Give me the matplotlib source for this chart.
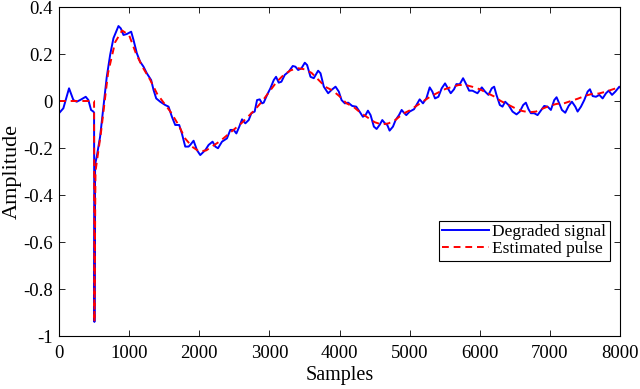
import matplotlib
matplotlib.use('Agg')
import matplotlib.pyplot as plt

plt.rcParams['font.family'] = ['Liberation Serif', 'DejaVu Serif']

# degraded signal (sample, amplitude)
sig_x = [0, 62, 143, 205, 252, 300, 381, 419, 457, 490, 500, 505, 510, 515,
         538, 586, 633, 681, 729, 776, 848, 881, 919, 967, 1029, 1062, 1110,
         1157, 1205, 1252, 1314, 1348, 1386, 1443, 1514, 1562, 1610, 1657,
         1714, 1752, 1800, 1848, 1871, 1919, 1967, 2014, 2086, 2133, 2190,
         2229, 2267, 2324, 2395, 2443, 2490, 2529, 2571, 2610, 2657, 2705,
         2743, 2790, 2824, 2862, 2895, 2919, 2967, 3014, 3062, 3095, 3133,
         3171, 3219, 3276, 3333, 3371, 3410, 3457, 3505, 3538, 3586, 3633,
         3695, 3729, 3776, 3838, 3886, 3943, 3990, 4029, 4076, 4124, 4181,
         4238, 4286, 4333, 4371, 4405, 4443, 4490, 4529, 4571, 4610, 4648,
         4681, 4714, 4762, 4800, 4848, 4886, 4919, 4952, 5000, 5062, 5110,
         5143, 5190, 5238, 5286, 5324, 5362, 5410, 5457, 5505, 5552, 5586,
         5633, 5667, 5714, 5762, 5800, 5848, 5895, 5967, 6029, 6076, 6124,
         6171, 6205, 6238, 6286, 6324, 6362, 6410, 6467, 6524, 6571, 6619,
         6657, 6695, 6729, 6776, 6824, 6871, 6919, 6967, 7014, 7062, 7095,
         7133, 7171, 7219, 7267, 7314, 7362, 7395, 7443, 7490, 7538, 7571,
         7610, 7657, 7705, 7752, 7800, 7838, 7886, 7933, 7990, 8000]
sig_y = [-0.052, -0.031, 0.054, 0.004, -0.003, 0.004, 0.018, 0.004, -0.038,
         -0.045, -0.05, -0.94, -0.58, -0.27,
         -0.237, -0.152, -0.024, 0.103, 0.196, 0.267, 0.319, 0.309, 0.281,
         0.285, 0.295, 0.260, 0.203, 0.167, 0.146, 0.118, 0.089, 0.047,
         0.011, -0.003, -0.017, -0.024, -0.067, -0.102, -0.102, -0.138,
         -0.194, -0.194, -0.187, -0.169, -0.209, -0.230, -0.209, -0.187,
         -0.173, -0.194, -0.201, -0.173, -0.159, -0.123, -0.123, -0.138,
         -0.109, -0.078, -0.095, -0.081, -0.052, -0.045, 0.004, 0.007,
         -0.010, -0.007, 0.026, 0.054, 0.089, 0.103, 0.078, 0.082, 0.111,
         0.125, 0.149, 0.146, 0.132, 0.139, 0.163, 0.153, 0.103, 0.097,
         0.129, 0.118, 0.061, 0.033, 0.047, 0.061, 0.040, 0.004, -0.010,
         -0.007, -0.021, -0.024, -0.045, -0.067, -0.060, -0.041, -0.060,
         -0.109, -0.119, -0.102, -0.081, -0.095, -0.102, -0.126, -0.109,
         -0.081, -0.060, -0.038, -0.050, -0.060, -0.045, -0.035, -0.010,
         0.007, -0.010, 0.011, 0.058, 0.040, 0.011, 0.018, 0.054, 0.075,
         0.050, 0.033, 0.050, 0.072, 0.071, 0.097, 0.075, 0.044, 0.044,
         0.033, 0.058, 0.040, 0.026, 0.054, 0.061, 0.026, -0.017, -0.024,
         -0.003, -0.017, -0.045, -0.057, -0.045, -0.017, -0.007, -0.035,
         -0.052, -0.052, -0.060, -0.041, -0.021, -0.024, -0.038, 0.004,
         0.016, -0.010, -0.038, -0.050, -0.021, -0.003, -0.024, -0.045,
         -0.024, 0.004, 0.040, 0.050, 0.021, 0.018, 0.026, 0.011, 0.033,
         0.044, 0.026, 0.040, 0.061, 0.058]

# estimated pulse (smooth)
est_x = [0, 500, 505, 520, 600, 700, 800, 900, 1000, 1100, 1200, 1300, 1400,
         1500, 1600, 1700, 1800, 1900, 2000, 2100, 2200, 2300, 2400, 2500,
         2600, 2700, 2800, 2900, 3000, 3100, 3200, 3300, 3400, 3500, 3600,
         3700, 3800, 3900, 4000, 4100, 4200, 4300, 4400, 4500, 4600, 4700,
         4800, 4900, 5000, 5100, 5200, 5300, 5400, 5500, 5600, 5700, 5800,
         5900, 6000, 6100, 6200, 6300, 6400, 6500, 6600, 6700, 6800, 6900,
         7000, 7100, 7200, 7300, 7400, 7500, 7600, 7700, 7800, 7900, 8000]
est_y = [0.0, 0.0, -0.94, -0.30, -0.13, 0.12, 0.25, 0.30, 0.28, 0.20, 0.14,
         0.09, 0.03, -0.01, -0.05, -0.10, -0.16, -0.195, -0.215, -0.21,
         -0.19, -0.17, -0.145, -0.12, -0.095, -0.065, -0.035, 0.0, 0.04,
         0.08, 0.11, 0.13, 0.14, 0.135, 0.12, 0.09, 0.06, 0.045, 0.02,
         -0.01, -0.025, -0.05, -0.07, -0.09, -0.10, -0.095, -0.08, -0.055,
         -0.04, -0.02, 0.0, 0.02, 0.035, 0.05, 0.06, 0.068, 0.068, 0.06,
         0.05, 0.035, 0.02, 0.0, -0.015, -0.03, -0.042, -0.048, -0.045,
         -0.032, -0.02, -0.012, -0.01, 0.0, 0.01, 0.022, 0.03, 0.032, 0.04,
         0.05, 0.06]

xticks = [0, 1000, 2000, 3000, 4000, 5000, 6000, 7000, 8000]
yticks = [-1, -0.8, -0.6, -0.4, -0.2, 0, 0.2, 0.4]
ytick_labels = ['-1', '-0.8', '-0.6', '-0.4', '-0.2', '0', '0.2', '0.4']

fig = plt.figure(figsize=(6.4, 3.89), dpi=100)
ax = fig.add_axes([0.0922, 0.1362, 0.8766, 0.8458])

ax.plot(sig_x, sig_y, color='#0000ff', lw=1.4, solid_joinstyle='round',
        label='Degraded signal')
ax.plot(est_x, est_y, color='#ff0000', lw=1.4, ls=(0, (3.5, 2.5)),
        label='Estimated pulse')

ax.set_xlim(0, 8000)
ax.set_ylim(-1, 0.4)
ax.set_xticks(xticks)
ax.set_xticklabels([str(t) for t in xticks])
ax.set_yticks(yticks)
ax.set_yticklabels(ytick_labels)
ax.tick_params(direction='in', top=True, right=True, labelsize=13.5, length=4,
               width=0.6)
ax.tick_params(axis='x', pad=6.5)
ax.tick_params(axis='y', pad=4.5)
for s in ax.spines.values():
    s.set_linewidth(0.8)

ax.set_xlabel('Samples', fontsize=14.5, labelpad=3)
ax.set_ylabel('Amplitude', fontsize=16, labelpad=1)

leg = ax.legend(loc='lower right', bbox_to_anchor=(0.982, 0.229), fontsize=12.5,
                frameon=True, fancybox=False, edgecolor='black', framealpha=1,
                handlelength=2.7, handletextpad=0.2, borderpad=0.2,
                labelspacing=0.05, borderaxespad=0)
leg.get_frame().set_linewidth(0.8)

fig.savefig('out.png', dpi=100)
